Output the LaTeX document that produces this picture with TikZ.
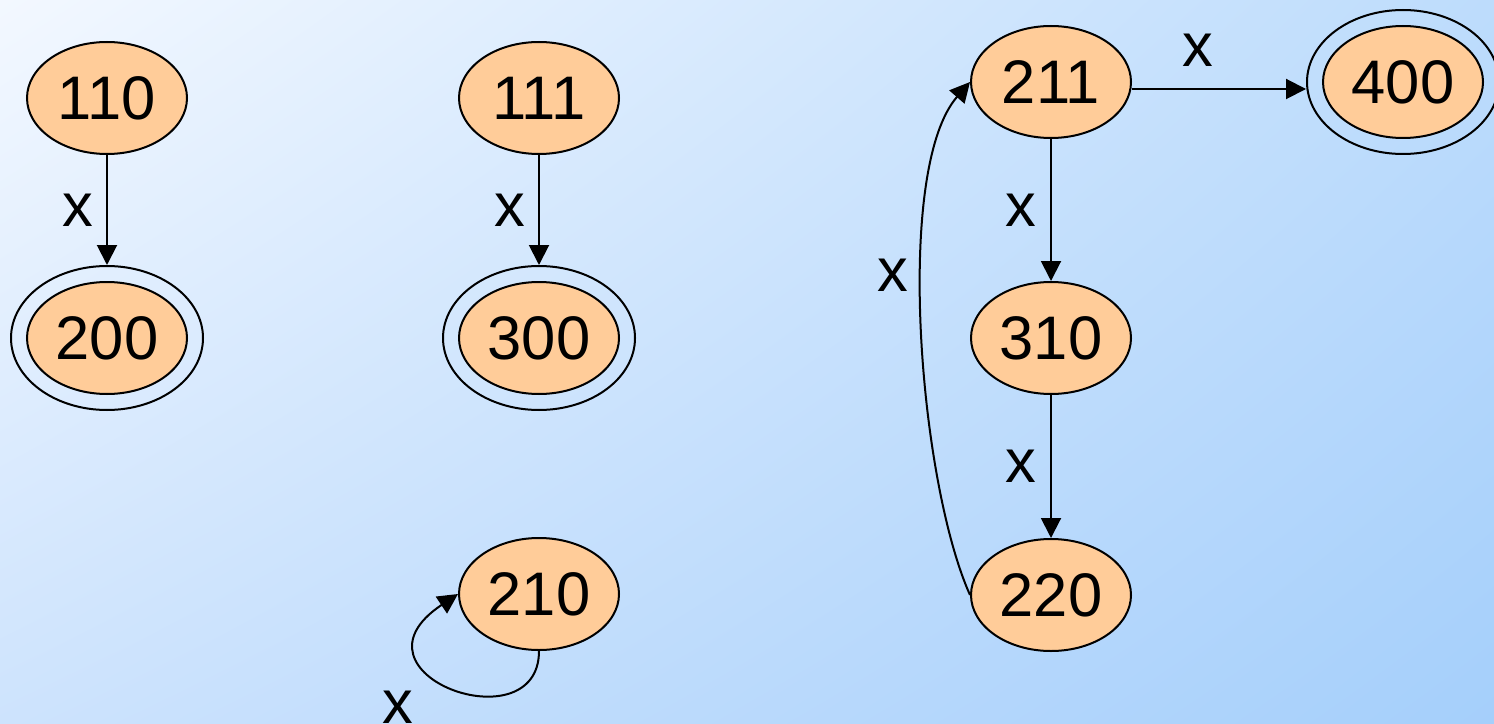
\documentclass[tikz,border=0pt]{standalone}
\usepackage{fontspec}
\setmainfont{Liberation Sans}
\usetikzlibrary{shapes.geometric,arrows.meta,shadings}
\definecolor{statefill}{HTML}{FFCC99}
\definecolor{bgul}{HTML}{F3F8FF}
\definecolor{bgur}{HTML}{BDDCFC}
\definecolor{bgll}{HTML}{CDE3FD}
\definecolor{bglr}{HTML}{A5CFFB}
\newcommand{\digitfont}{\fontsize{17.5}{20}\selectfont}
\tikzset{
  state/.style={ellipse, draw, fill=statefill, line width=0.2mm,
    minimum width=16mm, minimum height=11.2mm, inner sep=0pt, font=\digitfont},
  ring/.style={ellipse, draw, line width=0.2mm,
    minimum width=19.2mm, minimum height=14.4mm, inner sep=0pt},
  trans/.style={-{Triangle[length=2mm,width=2mm]}, line width=0.2mm},
  lbl/.style={inner sep=0pt, font=\digitfont}
}

\begin{document}
\begin{tikzpicture}[x=0.1mm, y=-0.1mm]
\useasboundingbox (0,0) rectangle (1494,724);
\shade[upper left=bgul, upper right=bgur, lower left=bgll, lower right=bglr]
  (0,0) rectangle (1494,724);
% left column
\node[state] (s110) at (107,98) {110};
\node[ring] (r200) at (107,338) {};
\node[state] (s200) at (r200) {200};
\draw[trans] (s110) -- (r200);
\node[lbl] (x110) at (78,210) {x};
% middle column
\node[state] (s111) at (539,98) {111};
\node[ring] (r300) at (539,338) {};
\node[state] (s300) at (r300) {300};
\draw[trans] (s111) -- (r300);
\node[lbl] (x111) at (510,210) {x};
\node[state] (s210) at (539,594) {210};
\draw[trans] (s210.south) .. controls +(0,95) and +(-120,80) .. (s210.west);
\node[lbl] (x210) at (398,707) {x};
% right part
\node[state] (s211) at (1051,82) {211};
\node[ring] (r400) at (1403,82) {};
\node[state] (s400) at (r400) {400};
\node[state] (s310) at (1051,338) {310};
\node[state] (s220) at (1051,595) {220};
\draw[trans] ([yshift=-0.7mm]s211.east) -- ([yshift=-0.7mm]r400.west);
\draw[trans] (s211) -- (s310);
\draw[trans] (s310) -- (s220);
\draw[trans] (s220.west) .. controls +(-51,-114) and +(-76,87) .. (s211.west);
\node[lbl] (x400) at (1198,50) {x};
\node[lbl] (x310) at (1021,210) {x};
\node[lbl] (x220) at (1021,466) {x};
\node[lbl] (x211) at (893,275) {x};
\end{tikzpicture}
\end{document}
